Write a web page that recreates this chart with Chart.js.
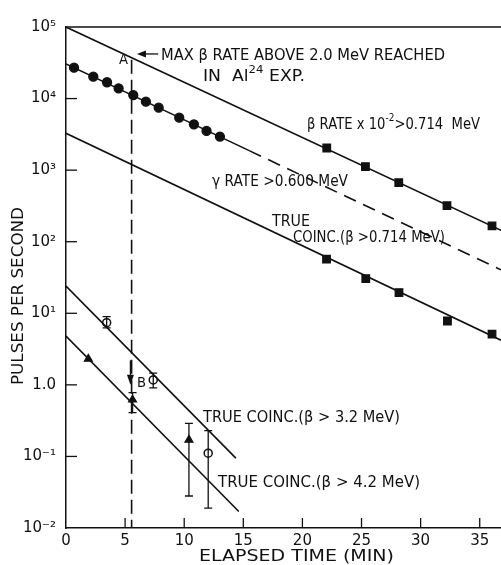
<!DOCTYPE html>
<html><head><meta charset="utf-8">
<script src="https://cdn.jsdelivr.net/npm/chart.js@4.4.0/dist/chart.umd.min.js"></script>
<style>html,body{margin:0;padding:0;background:#fff;overflow:hidden;}#wrap{width:501px;height:565px;position:relative;}canvas{display:block;}</style>
</head><body><div id="wrap"><canvas id="c" width="501" height="565" style="width:501px;height:565px"></canvas></div>
<script>
// ---- tick labels ----
const xTicks = [0, 5, 10, 15, 20, 25, 30, 35];
const yTicks = [1e-2, 1e-1, 1, 1e1, 1e2, 1e3, 1e4, 1e5];
const yTickLabels = ['10⁻²', '10⁻¹', '1.0', '10¹', '10²', '10³', '10⁴', '10⁵'];

// ---- beta rate x 10^-2 > 0.714 MeV ----
const betaX = [22.06, 25.33, 28.15, 32.23, 36.04];
const betaY = [2040, 1120, 668, 319, 166];
const betaFitX = [0, 36.8];
const betaFitY = [100000, 144];

// ---- gamma rate > 0.600 MeV ----
const gammaX = [0.68, 2.31, 3.47, 4.45, 5.69, 6.76, 7.84, 9.58, 10.82, 11.89, 13.02];
const gammaY = [27000, 20200, 16900, 13900, 11200, 9050, 7460, 5410, 4370, 3530, 2940];
const gammaSolidX = [0, 15.5];
const gammaSolidY = [30500, 1875];
const gammaDashX = [15.5, 36.8];
const gammaDashY = [1875, 40.5];

// ---- true coinc (beta > 0.714 MeV) ----
const c714X = [22.04, 25.36, 28.17, 32.27, 36.04];
const c714Y = [57, 30.5, 19.5, 7.8, 5.1];
const c714FitX = [0, 36.8];
const c714FitY = [3270, 4.2];

// ---- true coinc (beta > 3.2 MeV) ----
const c32X = [3.44, 7.38, 12.03];
const c32Y = [7.4, 1.17, 0.111];
const c32Hi = [9.0, 1.46, 0.23];
const c32Lo = [6.25, 0.91, 0.019];
const c32FitX = [0, 14.37];
const c32FitY = [24, 0.0946];

// ---- true coinc (beta > 4.2 MeV) ----
const c42X = [1.89, 5.63, 10.4];
const c42Y = [2.3, 0.62, 0.17];
const c42Hi = [null, 0.78, 0.29];
const c42Lo = [null, 0.41, 0.028];
const c42FitX = [0, 14.62];
const c42FitY = [4.8, 0.017];

// ---- max beta rate marker (A / B) ----
const maxX = [5.55, 5.55];
const maxY = [35000, 0.01];

const pts = (xs, ys) => xs.map((x, i) => ({x, y: ys[i]}));
const K = '#111';
const FONT = '"DejaVu Sans", "Liberation Sans", sans-serif';

function lineDS(xs, ys, dash) {
  return {data: pts(xs, ys), showLine: true, borderColor: K, borderWidth: 1.6,
    pointRadius: 0, borderDash: dash || [], fill: false};
}
function ptDS(xs, ys, style, r, fillCol, extra) {
  return Object.assign({data: pts(xs, ys), showLine: false, pointStyle: style,
    pointRadius: r, pointBackgroundColor: fillCol, pointBorderColor: K,
    pointBorderWidth: 1.3, pointHoverRadius: r}, extra || {});
}

// rich text: parts = [[text, sup]]
function drawRich(ctx, parts, x, y, w, size) {
  ctx.save();
  const supSize = size * 0.68;
  let total = 0;
  parts.forEach(p => { ctx.font = (p[1] ? supSize : size) + 'px ' + FONT; total += ctx.measureText(p[0]).width; });
  const sx = w / total;
  ctx.translate(x, y);
  ctx.scale(sx, 1);
  ctx.fillStyle = K;
  ctx.textBaseline = 'middle';
  ctx.textAlign = 'left';
  let cx = 0;
  parts.forEach(p => {
    ctx.font = (p[1] ? supSize : size) + 'px ' + FONT;
    ctx.fillText(p[0], cx, p[1] ? -size * 0.42 : 0);
    cx += ctx.measureText(p[0]).width;
  });
  ctx.restore();
}

const labels = [
  {parts: [['A', 0]], x: 119, y: 60, w: 9, s: 14},
  {parts: [['MAX β RATE ABOVE 2.0 MeV REACHED', 0]], x: 161, y: 56, w: 284, s: 15},
  {parts: [['IN  Al', 0], ['24', 1], [' EXP.', 0]], x: 203, y: 77, w: 102, s: 15},
  {parts: [['β RATE x 10', 0], ['-2', 1], ['>0.714  MeV', 0]], x: 307, y: 125, w: 173, s: 15},
  {parts: [['γ RATE >0.600 MeV', 0]], x: 212, y: 182, w: 136, s: 15},
  {parts: [['TRUE', 0]], x: 272, y: 222, w: 38, s: 15},
  {parts: [['COINC.(β >0.714 MeV)', 0]], x: 293, y: 238, w: 152, s: 15},
  {parts: [['TRUE COINC.(β > 3.2 MeV)', 0]], x: 203, y: 418, w: 197, s: 15},
  {parts: [['TRUE COINC.(β > 4.2 MeV)', 0]], x: 218, y: 483, w: 202, s: 15},
  {parts: [['B', 0]], x: 137, y: 383, w: 9, s: 14}
];

const decor = {
  id: 'decor',
  afterDatasetsDraw(chart) {
    const {ctx, chartArea: a, scales: {x, y}} = chart;
    ctx.save();
    ctx.strokeStyle = K; ctx.fillStyle = K; ctx.lineWidth = 1.5;
    // top frame line
    ctx.beginPath(); ctx.moveTo(a.left, a.top); ctx.lineTo(a.right, a.top); ctx.stroke();
    // inward ticks
    ctx.lineWidth = 1.3;
    yTicks.forEach(v => {
      if (v === 1e5 || v === 1e-2) return;
      const py = y.getPixelForValue(v);
      ctx.beginPath(); ctx.moveTo(a.left, py); ctx.lineTo(a.left + 11, py); ctx.stroke();
    });
    xTicks.forEach(v => {
      if (v === 0) return;
      const px = x.getPixelForValue(v);
      ctx.beginPath(); ctx.moveTo(px, a.bottom); ctx.lineTo(px, a.bottom - 10); ctx.stroke();
    });
    // error bars
    const bars = (xs, ys, hi, lo) => xs.forEach((xv, i) => {
      if (hi[i] == null) return;
      const px = x.getPixelForValue(xv);
      const ph = y.getPixelForValue(hi[i]), pl = y.getPixelForValue(lo[i]);
      ctx.beginPath();
      ctx.moveTo(px, ph); ctx.lineTo(px, pl);
      ctx.moveTo(px - 4, ph); ctx.lineTo(px + 4, ph);
      ctx.moveTo(px - 4, pl); ctx.lineTo(px + 4, pl);
      ctx.stroke();
    });
    bars(c32X, c32Y, c32Hi, c32Lo);
    bars(c42X, c42Y, c42Hi, c42Lo);
    // arrow A (horizontal, pointing left toward beta line)
    const ay = y.getPixelForValue(42000);
    const ax0 = x.getPixelForValue(7.8), ax1 = x.getPixelForValue(6.0);
    ctx.beginPath(); ctx.moveTo(ax0, ay); ctx.lineTo(ax1 + 6, ay); ctx.stroke();
    ctx.beginPath(); ctx.moveTo(ax1, ay); ctx.lineTo(ax1 + 9, ay - 3.5); ctx.lineTo(ax1 + 9, ay + 3.5); ctx.closePath(); ctx.fill();
    // arrow B (vertical, pointing down at 1.0)
    const bx = x.getPixelForValue(5.45);
    const by0 = y.getPixelForValue(2.2), by1 = y.getPixelForValue(1.0);
    ctx.beginPath(); ctx.moveTo(bx, by0); ctx.lineTo(bx, by1 - 6); ctx.stroke();
    ctx.beginPath(); ctx.moveTo(bx, by1); ctx.lineTo(bx - 3.5, by1 - 10); ctx.lineTo(bx + 3.5, by1 - 10); ctx.closePath(); ctx.fill();
    // labels
    labels.forEach(l => drawRich(ctx, l.parts, l.x, l.y, l.w, l.s));
    // axis titles
    drawRich(ctx, [['ELAPSED TIME (MIN)', 0]], 199, 557, 195, 16);
    ctx.save();
    ctx.translate(19, 385); ctx.rotate(-Math.PI / 2);
    drawRich(ctx, [['PULSES PER SECOND', 0]], 0, 0, 178, 16);
    ctx.restore();
    ctx.restore();
  }
};

new Chart(document.getElementById('c'), {
  type: 'scatter',
  data: {datasets: [
    lineDS(betaFitX, betaFitY),
    ptDS(betaX, betaY, 'rect', 5.3, K),
    lineDS(gammaSolidX, gammaSolidY),
    lineDS(gammaDashX, gammaDashY, [13, 8]),
    ptDS(gammaX, gammaY, 'circle', 4.5, K),
    lineDS(c714FitX, c714FitY),
    ptDS(c714X, c714Y, 'rect', 5.3, K),
    lineDS(c32FitX, c32FitY),
    ptDS(c32X, c32Y, 'circle', 4, '#fff', {pointBorderWidth: 1.5}),
    lineDS(c42FitX, c42FitY),
    ptDS(c42X, c42Y, 'triangle', 4.5, K),
    lineDS(maxX, maxY, [14, 6])
  ]},
  options: {
    responsive: false,
    animation: false,
    devicePixelRatio: 1,
    layout: {autoPadding: false, padding: {top: 27, right: 0, left: 0, bottom: 0}},
    plugins: {legend: {display: false}, tooltip: {enabled: false}},
    events: [],
    scales: {
      x: {
        type: 'linear', min: 0, max: 36.8,
        afterBuildTicks: s => { s.ticks = xTicks.map(v => ({value: v})); },
        afterFit: s => { s.height = 37; s.paddingLeft = 0; s.paddingRight = 0; },
        ticks: {color: K, font: {family: FONT, size: 15, lineHeight: 1}, padding: -2, maxRotation: 0, autoSkip: false,
          callback: v => String(v)},
        grid: {display: false},
        border: {display: true, color: K, width: 1.5}
      },
      y: {
        type: 'logarithmic', min: 0.01, max: 100000,
        afterBuildTicks: s => { s.ticks = yTicks.map(v => ({value: v})); },
        afterFit: s => { s.width = 66; s.paddingTop = 0; s.paddingBottom = 0; },
        ticks: {color: K, font: {family: FONT, size: 15}, padding: 2, autoSkip: false,
          callback: v => { const i = yTicks.findIndex(t => Math.abs(Math.log10(t) - Math.log10(v)) < 1e-6); return i >= 0 ? yTickLabels[i] : ''; }},
        grid: {display: false},
        border: {display: true, color: K, width: 1.5}
      }
    }
  },
  plugins: [decor]
});
</script>
</body></html>
